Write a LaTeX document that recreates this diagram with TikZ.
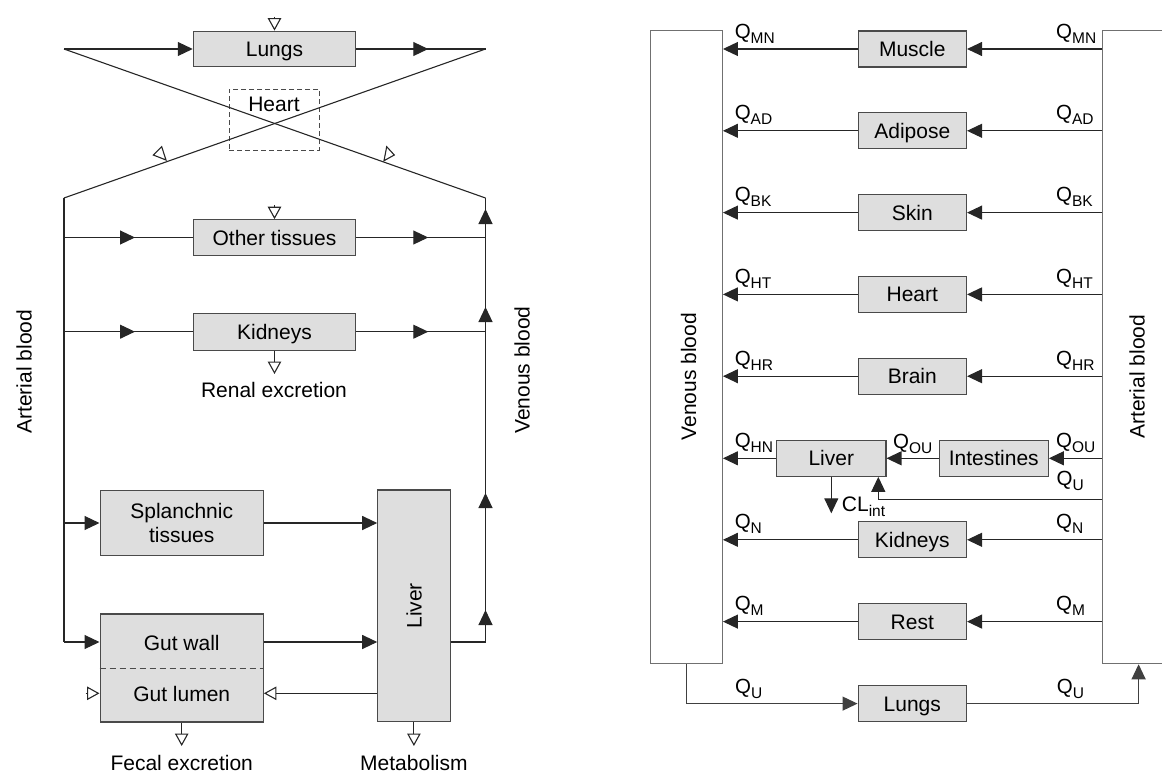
\documentclass[tikz,border=0pt]{standalone}
\usepackage{fontspec}
\setmainfont{Liberation Sans}
\usetikzlibrary{arrows.meta,decorations.markings}
\definecolor{boxfill}{HTML}{DEDEDE}
\definecolor{boxline}{HTML}{4A4A4A}
\definecolor{bloodline}{HTML}{707070}
\newcommand\Qlab[1]{Q\raisebox{-5pt}{\fontsize{15.5}{15.5}\selectfont #1}}
\begin{document}
\begin{tikzpicture}[x=1pt,y=-1pt,
  every node/.style={font=\fontsize{21}{24}\selectfont, inner sep=0pt},
  organ/.style={draw=boxline, fill=boxfill, line width=1.1pt, minimum width=#1, text height=15pt, text depth=0pt},
  organ/.default=162.4pt,
  tall/.style={draw=boxline, fill=boxfill, line width=1.1pt},
  conn/.style={line width=1.1pt, draw=black!85},
  ftip/.style={-{Triangle[length=15pt,width=14pt]}},
  otip/.style={-{Triangle[open,length=12.5pt,width=13.5pt]}},
  midtip/.style={postaction={decorate},decoration={markings,mark=at position #1 with {\arrow{Triangle[length=15pt,width=14pt]}}}},
  qlab/.style={anchor=base west, font=\fontsize{20.5}{24}\selectfont},
  blood/.style={draw=bloodline, line width=1.1pt, minimum width=72.2pt, minimum height=633pt}
]
\useasboundingbox (0,0) rectangle (1162,774);

% ================= LEFT DIAGRAM =================
\coordinate (TL) at (64,49);
\coordinate (TR) at (485.5,49);
\coordinate (BL) at (64,198);
\coordinate (BR) at (485.5,198);
\coordinate (LB) at (64,642);
\coordinate (RB) at (485.5,642);
\coordinate (lumen) at (181.7,693.3);

\node[organ, minimum height=35.7pt] (lungsL) at (274.5,49) {Lungs};
\node[draw=boxline, dashed, dash pattern=on 5pt off 3pt, line width=1pt, minimum width=90pt, minimum height=61pt] (heartL) at (274,119.5) {};
\node[anchor=base] (heartT) at (274,111.5) {Heart};
\node[organ, minimum height=35.6pt] (otherL) at (274.5,237.5) {Other tissues};
\node[organ, minimum height=36.7pt] (kidL) at (274.5,331.7) {Kidneys};
\node[tall, minimum width=163.3pt, minimum height=65.7pt, align=center] (splL) at (181.7,523) {Splanchnic\\tissues};
\node[tall, minimum width=163.3pt, minimum height=108pt] (gutL) at (181.7,668) {};
\node[anchor=base] (gwT) at (181.7,650) {Gut wall};
\node[anchor=base] (glT) at (181.7,701) {Gut lumen};
\node[tall, minimum width=72.3pt, minimum height=231.7pt] (liverL) at (413.9,605.8) {};
\node[rotate=90, anchor=base] (liverLT) at (421.5,605.8) {Liver};

\draw[dashed, dash pattern=on 6pt off 4pt, line width=1pt, draw=boxline] (gutL.west) -- (gutL.east);

\node[rotate=90] (artL) at (24,371.7) {Arterial blood};
\node[rotate=90] (venL) at (522,370) {Venous blood};
\node[anchor=base] (renal) at (274,397.5) {Renal excretion};
\node[anchor=base] (fecal) at (181.7,770) {Fecal excretion};
\node[anchor=base] (metab) at (413.9,770) {Metabolism};

% top loop
\draw[conn, ftip] (TL) -- (lungsL.west);
\draw[conn, midtip=72pt] (lungsL.east) -- (TR);
\draw[conn] (TL) -- (BR);
\draw[conn] (TR) -- (BL);
% arterial side
\draw[conn] (BL) -- (LB);
\draw[conn, ftip] (LB) -- (gutL.west |- LB);
\draw[conn, midtip=71pt] (BL |- otherL) -- (otherL.west);
\draw[conn, midtip=71pt] (BL |- kidL) -- (kidL.west);
\draw[conn, ftip] (BL |- splL) -- (splL.west);
% venous side
\draw[conn, midtip=72pt] (otherL.east) -- (BR |- otherL);
\draw[conn, midtip=72pt] (kidL.east) -- (BR |- kidL);
\draw[conn, ftip] (splL.east) -- (liverL.west |- splL);
\draw[conn, ftip] (gutL.east |- LB) -- (liverL.west |- LB);
\draw[conn, otip] (liverL.west |- lumen) -- (gutL.east |- lumen);
\draw[conn] (liverL.east |- LB) -- (RB);
\draw[conn, postaction={decorate}, decoration={markings,
   mark=at position 32pt with {\arrow{Triangle[length=15pt,width=14pt]}},
   mark=at position 149pt with {\arrow{Triangle[length=15pt,width=14pt]}},
   mark=at position 335pt with {\arrow{Triangle[length=15pt,width=14pt]}},
   mark=at position 433pt with {\arrow{Triangle[length=15pt,width=14pt]}}}] (RB) -- (BR);

% dosing / elimination markers
\coordinate (d1) at (274.5,16.5);
\coordinate (d2) at (274.5,205);
\coordinate (d3) at (85.5,693.3);
\coordinate (e1) at (274.5,374);
\coordinate (e2) at (181.7,746);
\coordinate (e3) at (413.9,746);
\draw[conn, otip] (d1) -- (lungsL.north);
\draw[conn, otip] (d2) -- (otherL.north);
\draw[conn, otip] (d3) -- (gutL.west |- lumen);
\draw[conn, otip] (kidL.south) -- (e1);
\draw[conn, otip] (gutL.south) -- (e2);
\draw[conn, otip] (liverL.south) -- (e3);
\draw[conn, fill=white, line join=miter] (153.3,155) -- (161.7,146.7) -- (166,160) -- cycle;
\draw[conn, fill=white, line join=miter] (386.7,146.7) -- (394.3,155) -- (384,160.7) -- cycle;

% ================= RIGHT DIAGRAM =================
\node[blood] (ven) at (686.3,347.2) {};
\node[blood] (art) at (1138.6,347.2) {};
\node[rotate=90] (venT) at (688.5,376.7) {Venous blood};
\node[rotate=90] (artT) at (1137.2,376.7) {Arterial blood};

\node[organ=108.4pt, minimum height=36pt] (muscle) at (912.3,49) {Muscle};
\node[organ=108.4pt, minimum height=36pt] (adipose) at (912.3,130.8) {Adipose};
\node[organ=108.4pt, minimum height=36pt] (skin) at (912.3,212.6) {Skin};
\node[organ=108.4pt, minimum height=36pt] (heartR) at (912.3,294.4) {Heart};
\node[organ=108.4pt, minimum height=36pt] (brain) at (912.3,376.2) {Brain};
\node[organ=109.3pt, minimum height=36pt] (liverR) at (831.3,458.3) {Liver};
\node[organ=109pt, minimum height=36pt] (intest) at (993.8,458.3) {Intestines};
\node[organ=108.4pt, minimum height=36pt] (kidR) at (912.3,539.8) {Kidneys};
\node[organ=108.4pt, minimum height=36pt] (rest) at (912.3,621.6) {Rest};
\node[organ=108.4pt, minimum height=36pt] (lungsR) at (912.3,703.6) {Lungs};

\foreach \n/\q in {muscle/MN, adipose/AD, skin/BK, heartR/HT, brain/HR, kidR/N, rest/M}{
  \draw[conn, ftip] (art.west |- \n) -- (\n.east);
  \draw[conn, ftip] (\n.west) -- (ven.east |- \n);
  \node[qlab] (ql\n) at ([xshift=11.6pt, yshift=11pt]ven.east |- \n) {\Qlab{\q}};
  \node[qlab] (qr\n) at ([xshift=-46pt, yshift=11pt]art.west |- \n) {\Qlab{\q}};
}
% liver / intestines row
\draw[conn, ftip] (art.west |- intest) -- (intest.east);
\draw[conn, ftip] (intest.west) -- (liverR.east |- intest);
\draw[conn, ftip] (liverR.west) -- (ven.east |- liverR);
\node[qlab] (qlHN) at ([xshift=11.6pt, yshift=11pt]ven.east |- liverR) {\Qlab{HN}};
\node[qlab] (qmOU) at (893,448.3) {\Qlab{OU}};
\node[qlab] (qrOU) at ([xshift=-46pt, yshift=11pt]art.west |- intest) {\Qlab{OU}};
\node[qlab] (qrU) at (1056.5,485) {\Qlab{U}};
\coordinate (qu) at (878.3,499.3);
\draw[conn, ftip] (art.west |- qu) -- (qu) -- (qu |- liverR.south);
\coordinate (cl) at (831.3,513.3);
\draw[conn, ftip] (liverR.south) -- (cl);
\node[anchor=base west] (clT) at (841.7,511.7) {CL\raisebox{-5pt}{\fontsize{15.5}{15.5}\selectfont int}};

% lungs loop
\draw[conn, ftip, draw=black!75] (ven.south) |- (lungsR.west);
\draw[conn, ftip, draw=black!75] (lungsR.east) -| (art.south);
\node[qlab] (qlU) at (735,693.3) {\Qlab{U}};
\node[qlab] (qrU2) at (1056.7,693.3) {\Qlab{U}};
\end{tikzpicture}
\end{document}
